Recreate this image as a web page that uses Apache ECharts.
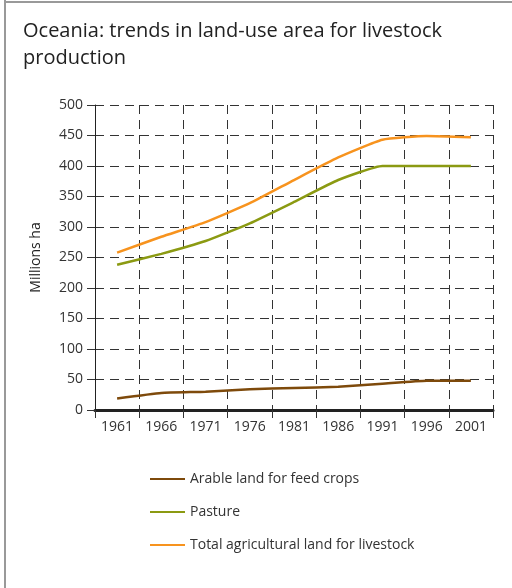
<!DOCTYPE html>
<html><head><meta charset="utf-8">
<script src="https://cdn.jsdelivr.net/npm/echarts@6/dist/echarts.min.js"></script>
<style>html,body{margin:0;padding:0;background:#fff}#c{width:512px;height:588px}</style>
</head><body><div id="c"></div>
<script>
var years = ['1961','1966','1971','1976','1981','1986','1991','1996','2001'];
var arable = [19, 28, 30, 34, 36, 38, 43, 48, 48];
var pasture = [238, 256, 277, 306, 341, 377, 400, 400, 400];
var total = [258, 284, 308, 339, 377, 414, 443, 449, 447];
var yTicks = [0, 50, 100, 150, 200, 250, 300, 350, 400, 450, 500];
var seriesNames = ['Arable land for feed crops', 'Pasture', 'Total agricultural land for livestock'];
var colors = ['#7E4A0B', '#8B9A12', '#F7931E'];
var FONT = '"Open Sans", "DejaVu Sans", sans-serif';

var chart = echarts.init(document.getElementById('c'), null, {renderer: 'canvas'});
chart.setOption({
  animation: false,
  backgroundColor: '#fff',
  title: {
    text: 'Oceania: trends in land-use area for livestock\nproduction',
    left: 18, top: 13,
    textStyle: {fontFamily: FONT, fontSize: 20, fontWeight: 'normal', color: '#222', lineHeight: 27}
  },
  graphic: [
    {type: 'line', shape: {x1: 5, y1: 0, x2: 5, y2: 588}, style: {stroke: '#999', lineWidth: 2}},
    {type: 'line', shape: {x1: 5, y1: 2, x2: 512, y2: 2}, style: {stroke: '#999', lineWidth: 2}}
  ],
  grid: {left: 95, right: 19, top: 105, bottom: 178},
  legend: {
    orient: 'vertical', left: 145, top: 467, itemGap: 19,
    itemWidth: 35, itemHeight: 16,
    icon: 'path://M0,7 L35,7 L35,9 L0,9 Z',
    textStyle: {fontFamily: FONT, fontSize: 14, color: '#333'},
    data: seriesNames
  },
  xAxis: {
    type: 'category', data: years, boundaryGap: true,
    axisLine: {lineStyle: {color: '#222', width: 3}},
    axisTick: {show: true, length: 8, lineStyle: {color: '#333', width: 1}},
    axisLabel: {fontFamily: FONT, fontSize: 14, color: '#333', margin: 10},
    splitLine: {show: true, lineStyle: {color: '#333', type: [9, 6], width: 1}}
  },
  yAxis: {
    type: 'value', min: yTicks[0], max: yTicks[yTicks.length - 1], interval: 50,
    name: 'Millions ha', nameLocation: 'middle', nameGap: 52, nameRotate: 90,
    nameTextStyle: {fontFamily: FONT, fontSize: 14, color: '#222'},
    axisLine: {show: true, lineStyle: {color: '#222', width: 1}},
    axisTick: {show: true, length: 8, lineStyle: {color: '#333'}},
    axisLabel: {fontFamily: FONT, fontSize: 14, color: '#333', margin: 12},
    splitLine: {show: true, lineStyle: {color: '#333', type: [9, 6], width: 1}}
  },
  series: [
    {name: seriesNames[0], type: 'line', data: arable, symbol: 'none', smooth: 0.15, lineStyle: {color: colors[0], width: 2.5}, itemStyle: {color: colors[0]}},
    {name: seriesNames[1], type: 'line', data: pasture, symbol: 'none', smooth: 0.15, lineStyle: {color: colors[1], width: 2.5}, itemStyle: {color: colors[1]}},
    {name: seriesNames[2], type: 'line', data: total, symbol: 'none', smooth: 0.15, lineStyle: {color: colors[2], width: 2.5}, itemStyle: {color: colors[2]}}
  ]
});
</script></body></html>
